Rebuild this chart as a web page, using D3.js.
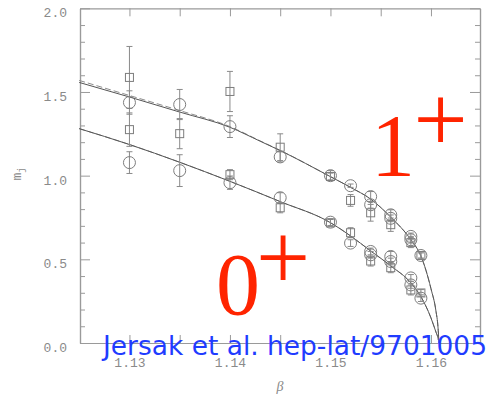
<!DOCTYPE html>
<html>
<head>
<meta charset="utf-8">
<script src="https://cdn.jsdelivr.net/npm/d3@7"></script>
<style>
  html, body { margin: 0; padding: 0; background: #fff; }
  svg { display: block; }
</style>
</head>
<body>
<svg id="chart" width="491" height="396"></svg>
<script>
// Glueball-like masses m_j versus beta for the 1+ and 0+ channels
const xTicksMajor = [1.13, 1.14, 1.15, 1.16];
const xTicksAll = [1.13, 1.135, 1.14, 1.145, 1.15, 1.155, 1.16];
const yTicksMajor = [0.0, 0.5, 1.0, 1.5, 2.0];
const yTicksMinor = [0.1, 0.2, 0.3, 0.4, 0.6, 0.7, 0.8, 0.9, 1.1, 1.2, 1.3, 1.4, 1.6, 1.7, 1.8, 1.9];

// fitted curves (beta, m)
const fitBeta1 = [1.125, 1.13, 1.135, 1.14, 1.143, 1.145, 1.15, 1.152, 1.154, 1.156, 1.158, 1.159, 1.16, 1.1605, 1.1607, 1.1608];
const fitM1    = [1.557, 1.470, 1.380, 1.289, 1.206, 1.150, 0.994, 0.930, 0.860, 0.752, 0.617, 0.520, 0.325, 0.190, 0.095, 0.0];
const fitM1alt = [1.569, 1.479, 1.389, 1.293, 1.208, 1.151, 0.994, 0.930, 0.860, 0.752, 0.617, 0.520, 0.325, 0.190, 0.095, 0.0];
const fitBeta0 = [1.125, 1.13, 1.135, 1.14, 1.145, 1.15, 1.152, 1.154, 1.156, 1.158, 1.159, 1.16, 1.1605, 1.1607, 1.1608];
const fitM0    = [1.281, 1.186, 1.080, 0.966, 0.845, 0.719, 0.640, 0.550, 0.461, 0.359, 0.277, 0.150, 0.065, 0.030, 0.0];

// 1+ channel measurements
const c1Beta = [1.13, 1.135, 1.14, 1.145, 1.15, 1.152, 1.154, 1.154, 1.156, 1.156, 1.158, 1.158, 1.159];
const c1M    = [1.437, 1.425, 1.293, 1.112, 1.000, 0.940, 0.875, 0.826, 0.766, 0.745, 0.637, 0.617, 0.523];
const c1Err  = [0.070, 0.090, 0.065, 0.030, 0.030, 0.010, 0.030, 0.020, 0.030, 0.020, 0.020, 0.020, 0.020];
const s1Beta = [1.13, 1.14, 1.145, 1.15, 1.152, 1.154, 1.156, 1.158, 1.159];
const s1M    = [1.587, 1.503, 1.170, 0.995, 0.852, 0.778, 0.707, 0.600, 0.523];
const s1Err  = [0.185, 0.120, 0.080, 0.020, 0.035, 0.050, 0.040, 0.030, 0.015];

// 0+ channel measurements
const c0Beta = [1.13, 1.135, 1.14, 1.145, 1.15, 1.152, 1.154, 1.154, 1.156, 1.156, 1.158, 1.158, 1.159];
const c0M    = [1.078, 1.030, 0.958, 0.868, 0.722, 0.597, 0.547, 0.527, 0.517, 0.487, 0.389, 0.347, 0.268];
const c0Err  = [0.065, 0.095, 0.040, 0.030, 0.020, 0.020, 0.020, 0.020, 0.030, 0.020, 0.020, 0.020, 0.020];
const s0Beta = [1.13, 1.135, 1.14, 1.145, 1.15, 1.152, 1.154, 1.156, 1.158, 1.159];
const s0M    = [1.275, 1.251, 1.006, 0.808, 0.718, 0.659, 0.490, 0.450, 0.317, 0.299];
const s0Err  = [0.100, 0.090, 0.030, 0.030, 0.020, 0.030, 0.030, 0.030, 0.030, 0.020];

const svg = d3.select("#chart");
const x = d3.scaleLinear().domain([1.12508, 1.16488]).range([80, 480]);
const y = d3.scaleLinear().domain([0, 2]).range([343, 8.3]);

const axisColor = "#9a9a9a";
const tickFont = "'Liberation Mono', 'DejaVu Sans Mono', monospace";

function styleAxis(g) {
  g.selectAll("path.domain").attr("stroke", axisColor).attr("stroke-width", 1.2);
  g.selectAll(".tick line").attr("stroke", axisColor).attr("stroke-width", 1);
  g.selectAll(".tick text").attr("fill", "#8a8a8a").style("font-family", tickFont).style("font-size", "13px");
}

// left axis: major ticks with labels, minor ticks without
svg.append("g").attr("transform", "translate(80,0)")
  .call(d3.axisLeft(y).tickValues(yTicksMinor).tickSizeInner(-5).tickSizeOuter(0).tickFormat(""))
  .call(styleAxis);
const yl = svg.append("g").attr("transform", "translate(80,0)")
  .call(d3.axisLeft(y).tickValues(yTicksMajor).tickSizeInner(-10).tickSizeOuter(0).tickPadding(13).tickFormat(d3.format(".1f")))
  .call(styleAxis);
yl.selectAll(".tick text").attr("dy", "0.32em").attr("transform", "translate(0,4.5)");

// right axis
svg.append("g").attr("transform", "translate(480,0)")
  .call(d3.axisRight(y).tickValues(yTicksMinor).tickSizeInner(-5).tickSizeOuter(0).tickFormat(""))
  .call(styleAxis);
svg.append("g").attr("transform", "translate(480,0)")
  .call(d3.axisRight(y).tickValues(yTicksMajor).tickSizeInner(-10).tickSizeOuter(0).tickFormat(""))
  .call(styleAxis);

// bottom and top axes
svg.append("g").attr("transform", "translate(0,343)")
  .call(d3.axisBottom(x).tickValues(xTicksAll).tickSizeInner(-8).tickSizeOuter(0).tickPadding(15)
    .tickFormat(d => xTicksMajor.some(t => Math.abs(t - d) < 1e-9) ? d3.format(".2f")(d) : ""))
  .call(styleAxis);
svg.append("g").attr("transform", "translate(0,8.3)")
  .call(d3.axisTop(x).tickValues(xTicksAll).tickSizeInner(-8).tickSizeOuter(0).tickFormat(""))
  .call(styleAxis);

// axis titles
svg.append("text").attr("x", 280).attr("y", 391).attr("text-anchor", "middle")
  .attr("fill", "#8a8a8a").style("font-family", "'Liberation Serif', serif").style("font-style", "italic")
  .style("font-size", "14px").text("β");
const yt = svg.append("text").attr("transform", "translate(21,174) rotate(-90)").attr("text-anchor", "middle")
  .attr("fill", "#8a8a8a").style("font-family", tickFont).style("font-size", "13px");
yt.append("tspan").text("m");
yt.append("tspan").attr("dy", "3").style("font-size", "9px").text("j");

// fitted curves
const line = d3.line().x(d => x(d[0])).y(d => y(d[1])).curve(d3.curveMonotoneX);
const pts = (bs, ms) => bs.map((b, i) => [b, ms[i]]);
svg.append("path").attr("d", line(pts(fitBeta1, fitM1alt))).attr("fill", "none")
  .attr("stroke", "#8c8c8c").attr("stroke-width", 1).attr("stroke-dasharray", "6,3");
svg.append("path").attr("d", line(pts(fitBeta1, fitM1))).attr("fill", "none")
  .attr("stroke", "#555").attr("stroke-width", 1);
svg.append("path").attr("d", line(pts(fitBeta0, fitM0))).attr("fill", "none")
  .attr("stroke", "#8c8c8c").attr("stroke-width", 1).attr("stroke-dasharray", "6,3");
svg.append("path").attr("d", line(pts(fitBeta0, fitM0))).attr("fill", "none")
  .attr("stroke", "#555").attr("stroke-width", 1);

// error bars and markers
const markColor = "#7d7d7d";
function errorBars(bs, ms, es) {
  const g = svg.append("g").attr("stroke", "#8a8a8a").attr("stroke-width", 1);
  bs.forEach((b, i) => {
    const cx = x(b), y1 = y(ms[i] + es[i]), y2 = y(ms[i] - es[i]);
    g.append("line").attr("x1", cx).attr("x2", cx).attr("y1", y1).attr("y2", y2);
    g.append("line").attr("x1", cx - 3).attr("x2", cx + 3).attr("y1", y1).attr("y2", y1);
    g.append("line").attr("x1", cx - 3).attr("x2", cx + 3).attr("y1", y2).attr("y2", y2);
  });
}
function circles(bs, ms) {
  svg.append("g").selectAll("circle").data(bs).join("circle")
    .attr("cx", d => x(d)).attr("cy", (d, i) => y(ms[i])).attr("r", 6)
    .attr("fill", "none").attr("stroke", markColor).attr("stroke-width", 1);
}
function squares(bs, ms) {
  svg.append("g").selectAll("rect").data(bs).join("rect")
    .attr("x", d => x(d) - 4).attr("y", (d, i) => y(ms[i]) - 4).attr("width", 8).attr("height", 8)
    .attr("fill", "none").attr("stroke", markColor).attr("stroke-width", 1);
}
errorBars(c1Beta, c1M, c1Err);
errorBars(s1Beta, s1M, s1Err);
errorBars(c0Beta, c0M, c0Err);
errorBars(s0Beta, s0M, s0Err);
circles(c1Beta, c1M);
squares(s1Beta, s1M);
circles(c0Beta, c0M);
squares(s0Beta, s0M);

// channel labels
const red = "#ff2400";
const serif = "'Liberation Serif', 'Times New Roman', serif";
svg.append("text").attr("x", 393).attr("y", 175).attr("text-anchor", "middle").attr("fill", red)
  .style("font-family", serif).style("font-size", "88px").text("1");
svg.append("text").attr("x", 440.5).attr("y", 151).attr("text-anchor", "middle").attr("fill", red)
  .style("font-family", serif).style("font-size", "96px").text("+");
svg.append("text").attr("x", 238).attr("y", 314).attr("text-anchor", "middle").attr("fill", red)
  .style("font-family", serif).style("font-size", "88px").text("0");
svg.append("text").attr("x", 283).attr("y", 289).attr("text-anchor", "middle").attr("fill", red)
  .style("font-family", serif).style("font-size", "96px").text("+");

// reference
svg.append("text").attr("x", 103).attr("y", 355).attr("fill", "#1f3cff")
  .attr("textLength", 384).attr("lengthAdjust", "spacingAndGlyphs")
  .style("font-family", "'Comic Sans MS', 'DejaVu Sans', sans-serif").style("font-size", "26px")
  .text("Jersak et al. hep-lat/9701005");
</script>
</body>
</html>
